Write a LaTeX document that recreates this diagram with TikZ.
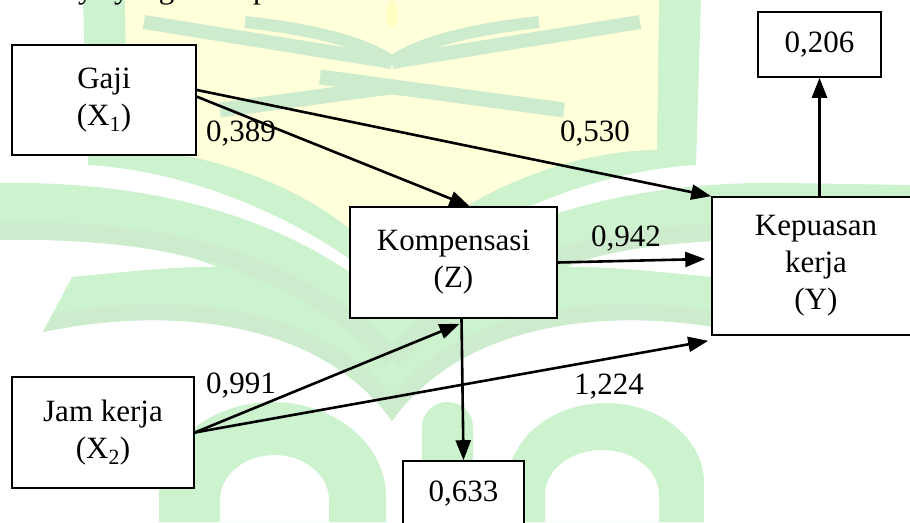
\documentclass[tikz,border=0pt]{standalone}
\usepackage{fontspec}
\setmainfont{Liberation Serif}
\usetikzlibrary{arrows.meta,calc}

\definecolor{leafgreen}{HTML}{CCF2CE}
\definecolor{stemgreen}{HTML}{CDEBCD}
\definecolor{bookyellow}{HTML}{FFFFDA}
\definecolor{flameyellow}{HTML}{FFFFC4}

% outline of one half of the emblem's swept wings
\newcommand{\wingpath}{(-130,185) -- (0,183) .. controls (150,181) and (290,215) .. (392,305) -- (392,421) .. controls (320,320) and (170,305) .. (43,332) -- (72,277) .. controls (140,270) and (190,266) .. (217,267) .. controls (180,250) and (100,238) .. (0,240) -- (-130,242) -- cycle}

% one half of the emblem (the other half is its mirror image)
\newcommand{\emblemhalf}{%
  \fill[leafgreen] \wingpath;
  \begin{scope}
    \clip \wingpath;
    \draw[stemgreen, line width=18] (-130,231) -- (0,231) .. controls (100,229) and (190,243) .. (240,262) .. controls (300,285) and (360,320) .. (392,360);
    \fill[stemgreen] (43,332) .. controls (170,305) and (320,320) .. (392,421) -- (392,398) .. controls (320,302) and (170,290) .. (40,316) -- cycle;
  \end{scope}
  \fill[leafgreen] (83,0) -- (392,0) -- (392,292) .. controls (300,212) and (180,170) .. (88,165) -- cycle;
  \fill[bookyellow] (125,0) -- (392,0) -- (392,272) .. controls (340,200) and (220,150) .. (127,150) -- cycle;
  \draw[stemgreen, line width=14] (144,22) -- (392,62);
  \draw[stemgreen, line width=12] (245,22) .. controls (320,30) and (370,45) .. (392,62);
  \draw[stemgreen, line width=15] (220,110) -- (464,77);
}

\tikzset{
  txt/.style={font=\fontsize{31}{37}\selectfont},
  box/.style={txt, draw, line width=1.6pt, fill=white, align=center, inner sep=0pt},
  coef/.style={txt, inner sep=0pt},
  link/.style={line width=2.6pt, -{Triangle[length=20pt,width=15pt]}},
}

\begin{document}
\begin{tikzpicture}[x=1pt,y=-1pt]
\useasboundingbox (0,0) rectangle (910,522);
\clip (0,0) rectangle (910,522);

% emblem in the background
\emblemhalf
\begin{scope}[shift={(784,0)}, xscale=-1]
  \emblemhalf
\end{scope}
\fill[flameyellow] (392,14) ellipse [x radius=6, y radius=13];
\fill[leafgreen, even odd rule]
  (159,522) -- (159,497) .. controls (159,444.5) and (209.8,402) .. (272.5,402) .. controls (335.2,402) and (386,444.5) .. (386,497) -- (386,522) -- cycle
  (220,522) -- (220,500) .. controls (220,475.1) and (244.4,455) .. (274.5,455) .. controls (304.6,455) and (329,475.1) .. (329,500) -- (329,522) -- cycle;
\fill[leafgreen] (422,522) -- (422,427) .. controls (422,413) and (433.4,402) .. (447.5,402) .. controls (461.6,402) and (473,413) .. (473,427) -- (473,522) -- cycle;
\fill[leafgreen, even odd rule]
  (508,522) -- (508,483) .. controls (508,439) and (552,403) .. (606,403) .. controls (660,403) and (704,439) .. (704,483) -- (704,522) -- cycle
  (545,522) -- (545,495) .. controls (545,470) and (570.5,450) .. (602,450) .. controls (633.5,450) and (659,470) .. (659,495) -- (659,522) -- cycle;

% line of body text above the figure
\node[coef, anchor=base west] (tx1) at (78,-1.5) {y};
\node[coef, anchor=base west] (tx2) at (114,-1.5) {yang};
\node[coef, anchor=base west] (tx3) at (253,-1.5) {p};

% variables
\node[box, minimum width=184pt, minimum height=110pt] (gaji) at (104,100) {Gaji\\(X\textsubscript{1})};
\node[box, minimum width=182pt, minimum height=111pt] (jam) at (103,432.5) {Jam kerja\\(X\textsubscript{2})};
\node[box, minimum width=207pt, minimum height=111pt] (komp) at (453.5,262.5) {Kompensasi\\(Z)};
\node[box, minimum width=208pt, minimum height=138pt] (yk) at (816,266) {Kepuasan\\kerja\\(Y)};
\node[box, minimum width=123pt, minimum height=65pt] (e1) at (819.5,44.5) {0,206};
\node[box, minimum width=121pt, minimum height=65pt] (e2) at (463.5,493.5) {0,633};

% paths
\draw[link] ($(gaji.north east)!0.41!(gaji.south east)$) -- (yk.north west);
\draw[link] ($(gaji.north east)!0.47!(gaji.south east)$) -- ([xshift=16pt]komp.north);
\draw[link] (komp.east) -- ([xshift=-6pt,yshift=7pt]yk.west);
\draw[link] (jam.east) -- ([xshift=6pt,yshift=-5pt]komp.south);
\draw[link] (jam.east) -- ([xshift=-3pt,yshift=-5pt]yk.south west);
\draw[link] ([xshift=8pt]komp.south) -- (e2.north);
\draw[link] (e1.south |- yk.north) -- (e1.south);

% coefficients
\node[coef] (c1) at (241,134) {0,389};
\node[coef] (c2) at (595,134) {0,530};
\node[coef] (c3) at (626,239) {0,942};
\node[coef] (c4) at (241,386) {0,991};
\node[coef] (c5) at (609,387) {1,224};
\end{tikzpicture}
\end{document}
